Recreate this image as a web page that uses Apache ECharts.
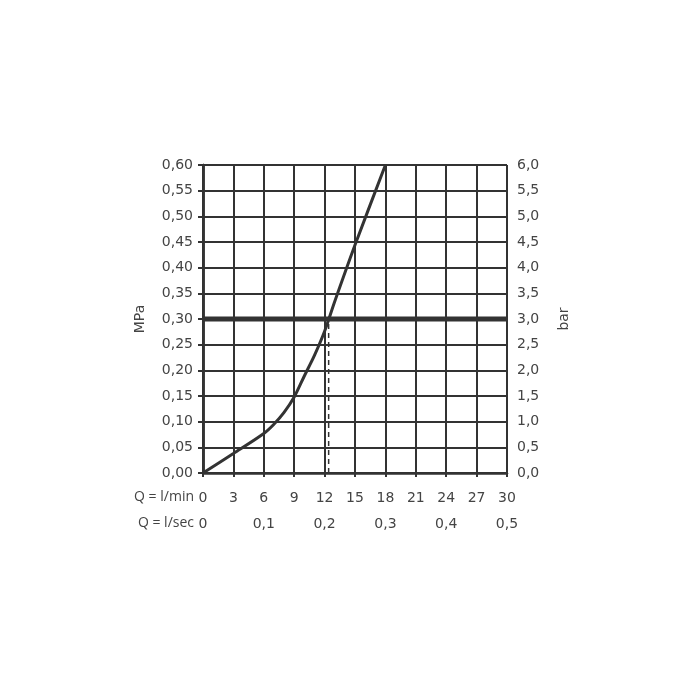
<!DOCTYPE html>
<html>
<head>
<meta charset="utf-8">
<script src="https://cdn.jsdelivr.net/npm/echarts@6/dist/echarts.min.js"></script>
<style>html,body{margin:0;padding:0;background:#fff}#c{width:700px;height:700px}</style>
</head>
<body>
<div id="c"></div>
<script>
// Flow (l/min) vs pressure (MPa)
var flowLpm = [0, 3, 6, 7, 8, 9, 10, 11, 12, 13, 15, 18];
var pressureMPa = [0, 0.038, 0.077, 0.095, 0.118, 0.148, 0.189, 0.229, 0.276, 0.334, 0.444, 0.60];
var refPressure = 0.30;
var refFlow = 12.4;
var xMin = 0, xMax = 30, xStep = 3;
var secMin = 0, secMax = 0.5, secStep = 0.1;
var mpaMax = 0.6, mpaStep = 0.05;
var barMax = 6, barStep = 0.5;
var rowLabels = ['Q = l/min', 'Q = l/sec'];
var leftName = 'MPa', rightName = 'bar';

var curve = flowLpm.map(function (x, i) { return [x, pressureMPa[i]]; });
var ink = '#333';
var txt = '#444';
var font = 'DejaVu Sans';
function comma(v, d) { return v.toFixed(d).replace('.', ','); }

var chart = echarts.init(document.getElementById('c'));
chart.setOption({
  animation: false,
  grid: { left: 203, right: 193, top: 165, bottom: 227, containLabel: false },
  textStyle: { fontFamily: font },
  xAxis: [{
    type: 'value', min: xMin, max: xMax, interval: xStep, position: 'bottom',
    axisLine: { show: true, lineStyle: { color: ink, width: 2.5 } },
    axisTick: { show: true, length: 4, lineStyle: { color: ink, width: 2 } },
    splitLine: { show: true, lineStyle: { color: ink, width: 2 } },
    axisLabel: { color: txt, fontSize: 14, fontFamily: font, margin: 18 }
  }, {
    type: 'value', min: secMin, max: secMax, interval: secStep, position: 'bottom', offset: 26,
    axisLine: { show: false }, axisTick: { show: false }, splitLine: { show: false },
    axisLabel: { color: txt, fontSize: 14, fontFamily: font, margin: 18,
      formatter: function (v) { return v === 0 ? '0' : comma(v, 1); } }
  }],
  yAxis: [{
    type: 'value', min: 0, max: mpaMax, interval: mpaStep, position: 'left',
    name: leftName, nameLocation: 'middle', nameGap: 56, nameRotate: 90,
    nameTextStyle: { color: txt, fontSize: 14, fontFamily: font },
    axisLine: { show: true, lineStyle: { color: ink, width: 2.5 } },
    axisTick: { show: true, length: 5, lineStyle: { color: ink, width: 2 } },
    splitLine: { show: true, lineStyle: { color: ink, width: 2 } },
    axisLabel: { color: txt, fontSize: 14, fontFamily: font, margin: 10,
      formatter: function (v) { return comma(v, 2); } }
  }, {
    type: 'value', min: 0, max: barMax, interval: barStep, position: 'right',
    name: rightName, nameLocation: 'middle', nameGap: 50, nameRotate: 90,
    nameTextStyle: { color: txt, fontSize: 14, fontFamily: font },
    axisLine: { show: true, lineStyle: { color: ink, width: 2.5 } },
    axisTick: { show: true, length: 5, lineStyle: { color: ink, width: 2 } },
    splitLine: { show: false },
    axisLabel: { color: txt, fontSize: 14, fontFamily: font, margin: 10,
      formatter: function (v) { return comma(v, 1); } }
  }],
  graphic: [
    { type: 'text', right: 700 - 194, top: 490, style: { text: rowLabels[0], fill: txt, fontFamily: 'Open Sans', fontSize: 14 } },
    { type: 'text', right: 700 - 194, top: 516, style: { text: rowLabels[1], fill: txt, fontFamily: 'Open Sans', fontSize: 14 } }
  ],
  series: [{
    type: 'line', xAxisIndex: 0, yAxisIndex: 0, data: [[xMin, refPressure], [xMax, refPressure]],
    symbol: 'none', lineStyle: { color: ink, width: 5 }, z: 3
  }, {
    type: 'line', xAxisIndex: 0, yAxisIndex: 0, data: [[refFlow, 0], [refFlow, refPressure]],
    symbol: 'none', lineStyle: { color: ink, width: 1.5, type: [5, 4] }, z: 3
  }, {
    type: 'line', xAxisIndex: 0, yAxisIndex: 0, data: curve, smooth: 0.3,
    symbol: 'none', lineStyle: { color: ink, width: 3 }, z: 4
  }]
});
</script>
</body>
</html>
